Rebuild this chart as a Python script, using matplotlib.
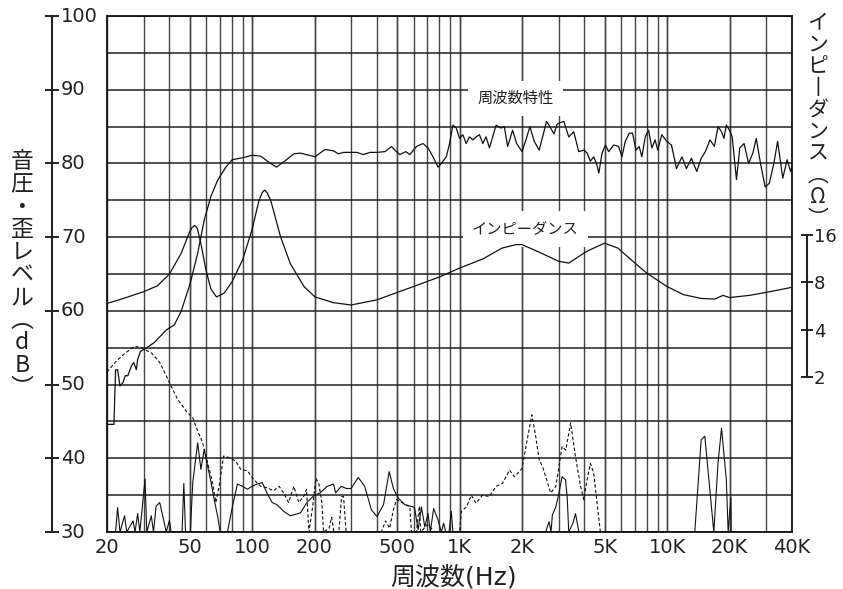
import matplotlib
matplotlib.use('Agg')
import matplotlib.pyplot as plt
import matplotlib.transforms as mtransforms
from matplotlib.ticker import FixedLocator, NullLocator, NullFormatter

# ---------------- data ----------------
# frequency response (dB SPL)
fr_freq = [20, 21.6, 22.0, 22.5, 23.1, 23.9, 24.5, 25.2, 26.2, 26.9, 27.7, 28.1, 29.0, 30.3, 33.8,
           38.6, 42.2, 45.5, 50.3, 54.7, 58.8, 63.3, 68.2, 74.8, 80.2, 90.9, 100, 110, 120, 131,
           142, 159, 171, 201, 225, 247, 261, 276, 302, 320, 344, 370, 400, 437, 470, 488, 515,
           551, 576, 620, 667, 705, 745, 788, 817, 863, 895, 929, 964, 1000, 1037, 1076, 1117,
           1159, 1202, 1247, 1294, 1342, 1393, 1500, 1583, 1643, 1705, 1802, 1884, 2000, 2090,
           2183, 2290, 2420, 2530, 2625, 2750, 2850, 2950, 3030, 3180, 3360, 3550, 3750, 3970,
           4120, 4270, 4430, 4570, 4690, 4860, 5050, 5230, 5530, 5840, 6060, 6290, 6570, 6820,
           7080, 7340, 7560, 7850, 8140, 8450, 8760, 9020, 9430, 9960, 10500, 11100, 11800,
           12400, 13100, 13900, 14600, 15300, 16100, 16900, 17600, 18300, 18800, 19300, 20000,
           20600, 21600, 22400, 23500, 24700, 25900, 26900, 28200, 29700, 31100, 32700, 34100,
           36100, 37900, 39400, 40000]
fr_db = [44.6, 44.6, 52.0, 52.0, 49.8, 50.3, 51.2, 51.2, 52.5, 53.0, 52.0, 53.4, 54.5, 54.8, 55.7,
         57.4, 58.1, 59.9, 63.7, 67.8, 72.3, 75.5, 77.7, 79.5, 80.5, 80.8, 81.1, 81.0, 80.2, 79.5,
         80.2, 81.3, 81.4, 80.9, 81.9, 81.7, 81.3, 81.5, 81.5, 81.5, 81.2, 81.5, 81.5, 81.6, 82.3,
         81.8, 81.2, 81.6, 81.2, 82.3, 82.7, 82.1, 80.9, 79.5, 80.0, 80.9, 82.7, 85.2, 84.8, 83.4,
         83.9, 82.7, 83.6, 83.2, 83.6, 83.9, 82.7, 83.6, 82.1, 85.2, 84.8, 85.0, 82.3, 84.5, 82.7,
         81.6, 83.2, 85.0, 83.0, 81.8, 83.9, 85.7, 84.8, 84.0, 85.3, 85.5, 85.7, 83.6, 84.3, 81.6,
         81.8, 81.4, 80.3, 80.9, 80.0, 78.7, 81.4, 82.5, 81.6, 82.5, 82.3, 80.9, 83.0, 84.1, 84.1,
         81.8, 82.3, 80.9, 83.6, 84.5, 82.1, 83.2, 81.8, 83.9, 83.0, 82.5, 79.3, 80.9, 79.3, 80.7,
         78.9, 80.7, 81.6, 83.2, 82.3, 85.0, 84.3, 83.4, 85.2, 84.5, 83.6, 77.8, 82.1, 82.7, 80.0,
         81.4, 83.4, 80.0, 76.8, 77.3, 80.0, 83.0, 78.0, 80.5, 78.9, 79.6]

# impedance (ohm)
imp_freq = [20, 24, 30, 35, 40, 45.5, 50, 51.5, 53, 54.5, 56.7, 60, 63.3, 67.4, 73.4, 80, 90, 100,
            108, 112, 115, 118, 123, 137, 153, 178, 201, 247, 300, 400, 500, 600, 800, 1000, 1300,
            1600, 1870, 2000, 2400, 3000, 3360, 4100, 5000, 5800, 7000, 8000, 10000, 12000, 14600,
            17000, 18600, 20000, 25000, 30000, 40000]
imp_ohm = [5.87, 6.32, 6.97, 7.60, 9.04, 12.2, 16.7, 17.9, 18.4, 17.6, 14.1, 9.54, 7.28, 6.46, 6.83,
           8.04, 11.1, 17.3, 26.6, 29.8, 30.9, 29.8, 26.6, 15.7, 10.5, 7.52, 6.46, 5.94, 5.74, 6.19,
           6.90, 7.52, 8.66, 9.85, 11.3, 13.2, 13.9, 13.9, 12.5, 10.9, 10.6, 12.6, 14.2, 13.2, 10.6,
           9.14, 7.52, 6.68, 6.32, 6.26, 6.61, 6.40, 6.61, 6.90, 7.44]

# 2nd harmonic distortion (dashed, dB)
h2_freq = [20, 22.2, 24.3, 27.2, 29.2, 32.7, 35.9, 38.6, 40.7, 43.8, 48.1, 51.8, 54.7, 57.8, 61.1,
           64.5, 66.9, 69.4, 72.9, 77.6, 83.5, 88.2, 95, 102, 110, 118, 127, 135, 142, 150, 159,
           168, 178, 183, 188, 196, 203, 210, 217, 221, 235, 242, 248, 262, 270, 276, 284, 420,
           440, 460, 480, 497, 535, 576, 586, 620, 640, 650, 700, 760, 1000, 1020, 1080, 1140,
           1200, 1290, 1390, 1500, 1610, 1740, 1840, 2000, 2090, 2230, 2330, 2420, 2510, 2600,
           2750, 2910, 3000, 3120, 3250, 3430, 3620, 3830, 3970, 4120, 4270, 4430, 4600, 4770, 4850]
h2_db = [51.7, 53.2, 54.2, 55.2, 55.0, 54.3, 53.0, 51.2, 49.8, 48.0, 46.4, 45.5, 43.7, 42.1, 39.4,
         36.7, 34.0, 36.2, 40.3, 40.1, 39.6, 38.5, 38.3, 37.1, 36.2, 36.0, 35.6, 36.2, 35.3, 34.0,
         36.2, 34.0, 34.9, 35.8, 30.0, 33.5, 37.3, 36.5, 34.0, 30.0, 30.5, 32.0, 30.0, 30.0, 34.8,
         34.8, 30.0, 30.0, 31.5, 30.5, 33.0, 34.4, 33.9, 33.4, 30.0, 30.0, 33.5, 30.0, 31.0, 30.0,
         30.0, 32.8, 33.4, 35.0, 33.9, 35.0, 34.8, 36.2, 36.6, 38.4, 37.5, 38.6, 41.6, 45.9, 42.9,
         39.8, 38.9, 37.5, 35.3, 36.2, 38.5, 41.6, 41.1, 44.8, 40.2, 36.2, 34.4, 37.1, 39.3, 38.0,
         33.9, 30.0, 29.0]

# 3rd harmonic distortion (solid, dB)
h3_freq = [20, 22.0, 22.5, 23.1, 24.3, 24.9, 26.7, 27.3, 28.1, 28.8, 30.5, 31.1, 32.7, 33.5, 34.5,
           35.9, 37.1, 38.6, 40.0, 40.7, 46.0, 46.9, 47.8, 50.4, 51.8, 54.7, 56.7, 58.8, 61.1, 63.3,
           65.7, 68.2, 70.2, 76.1, 80.5, 85, 90, 95, 100, 106, 112, 118, 125, 132, 142, 153, 162,
           171, 184, 198, 213, 230, 247, 253, 269, 285, 300, 325, 349, 376, 400, 430, 458, 480,
           506, 545, 598, 608, 631, 655, 680, 705, 723, 750, 788, 817, 838, 857, 890, 912, 929,
           2600, 2700, 2760, 2800, 2910, 3000, 3120, 3240, 3300, 3360, 3520, 3620, 3760, 13600,
           14600, 15200, 16800, 17600, 18300, 19300, 19700, 20300, 20400]
h3_db = [30.0, 30.0, 33.3, 30.0, 32.2, 30.0, 31.5, 30.0, 32.5, 30.0, 37.2, 30.0, 32.2, 30.0, 33.5,
         34.0, 32.2, 30.0, 31.6, 30.0, 30.0, 36.6, 30.0, 30.0, 36.7, 42.1, 38.5, 41.2, 38.9, 36.9,
         34.4, 32.2, 30.0, 30.0, 33.5, 36.5, 36.2, 35.8, 36.2, 36.5, 36.7, 35.3, 34.0, 33.7, 32.8,
         32.2, 32.4, 32.6, 34.0, 34.9, 35.3, 36.2, 36.5, 35.3, 36.2, 35.9, 35.9, 37.4, 36.2, 33.0,
         32.1, 33.7, 38.2, 35.9, 34.6, 33.7, 33.4, 33.2, 30.3, 33.4, 30.7, 32.5, 30.0, 33.2, 31.6,
         30.0, 31.2, 30.0, 30.0, 32.8, 30.0, 30.0, 31.4, 30.0, 32.3, 33.4, 35.0, 37.5, 37.1, 34.8,
         30.0, 31.2, 32.5, 30.0, 30.0, 42.5, 43.0, 30.0, 39.3, 44.1, 37.1, 30.0, 34.7, 29.0]

x_ticks = [20, 50, 100, 200, 500, 1000, 2000, 5000, 10000, 20000, 40000]
x_ticklabels = ['20', '50', '100', '200', '500', '1K', '2K', '5K', '10K', '20K', '40K']
x_grid = [30, 40, 50, 60, 70, 80, 90, 100, 200, 300, 400, 500, 600, 700, 800, 900, 1000,
          2000, 3000, 4000, 5000, 6000, 7000, 8000, 9000, 10000, 20000, 30000]
db_ticks = [30, 40, 50, 60, 70, 80, 90, 100]
db_grid = [35, 45, 55, 65, 75, 85, 95]
imp_ticks = [2, 4, 8, 16]

left_label = '\n'.join(['音', '圧', '・', '歪', 'レ', 'ベ', 'ル', '︵', 'd', 'B', '︶'])
right_label = '\n'.join(['イ', 'ン', 'ピ', '丨', 'ダ', 'ン', 'ス', '︵', 'Ω', '︶'])

# ---------------- layout ----------------
CJK = ['Noto Sans CJK JP', 'DejaVu Sans']
LAT = ['DejaVu Sans', 'Noto Sans CJK JP']
W, H = 843, 589
L, R, T, B = 107, 792, 16, 532
fig = plt.figure(figsize=(W / 100, H / 100), dpi=100)
fig.patch.set_facecolor('white')
ax = fig.add_axes([L / W, 1 - B / H, (R - L) / W, (B - T) / H])
ax.set_xscale('log')
ax.set_xlim(20, 40000)
ax.set_ylim(30, 100)
ax.set_axisbelow(True)

ax.xaxis.set_major_locator(FixedLocator(x_ticks))
ax.xaxis.set_minor_locator(FixedLocator(x_grid))
ax.xaxis.set_minor_formatter(NullFormatter())
ax.set_xticklabels(x_ticklabels)
ax.yaxis.set_major_locator(FixedLocator(db_ticks))
ax.yaxis.set_minor_locator(FixedLocator(db_grid))
ax.yaxis.set_minor_formatter(NullFormatter())
ax.xaxis.remove_overlapping_locs = False
ax.grid(which='both', axis='x', color='#444444', lw=1.0)
ax.grid(which='both', axis='y', color='#222222', lw=1.1)
ax.tick_params(axis='both', which='both', length=0)
ax.tick_params(axis='y', labelleft=False)
ax.tick_params(axis='x', labelsize=14, pad=4, colors='#222222')
for s in ax.spines.values():
    s.set_linewidth(1.3)
    s.set_color('#111111')

# left dB scale line
sec = ax.secondary_yaxis((52 - L) / (R - L))
sec.set_yticks(db_ticks)
sec.yaxis.set_minor_locator(NullLocator())
sec.tick_params(direction='inout', length=10.5, width=1.4, labelleft=False, color='#222222')
sec.spines['left'].set_linewidth(1.5)
sec.spines['left'].set_color('#222222')
trans = mtransforms.blended_transform_factory(fig.transFigure, ax.transData)
for v in db_ticks:
    ax.text(61 / W, v, str(v), transform=trans, ha='left', va='center', fontsize=14,
            color='#222222', clip_on=False)

# curves
ax.plot(fr_freq, fr_db, color='#111111', lw=0.9, zorder=4)
ax.plot(h2_freq, h2_db, color='#111111', lw=0.8, ls=(0, (3, 2)), zorder=4)
ax.plot(h3_freq, h3_db, color='#111111', lw=0.8, zorder=4)

# impedance axis
Z_REF, DB_REF, DB_PER_OCT = 16, 70.29, 6.42
ax2 = ax.twinx()
ax2.set_yscale('log', base=2)
ax2.set_ylim(Z_REF * 2 ** ((30 - DB_REF) / DB_PER_OCT), Z_REF * 2 ** ((100 - DB_REF) / DB_PER_OCT))
ax2.plot(imp_freq, imp_ohm, color='#111111', lw=0.9, zorder=4)
for k in ['left', 'top', 'bottom']:
    ax2.spines[k].set_visible(False)
ax2.spines['right'].set_position(('outward', 10.6))
ax2.spines['right'].set_bounds(2, 16)
ax2.spines['right'].set_linewidth(1.5)
ax2.spines['right'].set_color('#222222')
ax2.yaxis.set_major_locator(FixedLocator(imp_ticks))
ax2.yaxis.set_minor_locator(NullLocator())
ax2.yaxis.set_minor_formatter(NullFormatter())
ax2.set_yticklabels([str(v) for v in imp_ticks])
ax2.tick_params(axis='y', direction='inout', length=8.6, width=1.4, labelsize=13, pad=0.8,
                color='#222222', labelcolor='#222222')

# curve labels
box = dict(boxstyle='square,pad=0.6', fc='white', ec='none')
ax.text(1860, 88.8, '周波数特性', ha='center', va='center', fontsize=11, family=CJK,
        color='#222222', bbox=box, zorder=3)
ax.text(2075, 71.1, 'インピーダンス', ha='center', va='center', fontsize=11, family=CJK,
        color='#222222', bbox=box, zorder=3)

# axis titles (vertical Japanese)
fig.text(22 / W, 1 - 275 / H, left_label, ha='center', va='center', ma='center', fontsize=16.5,
         family=CJK, color='#222222', linespacing=0.98)
fig.text(818 / W, 1 - 121 / H, right_label, ha='center', va='center', ma='center', fontsize=15,
         family=CJK, color='#222222', linespacing=0.99)

fig.text(453 / W, 1 - 577 / H, '周波数(Hz)', ha='center', va='center', fontsize=18,
         family=LAT, color='#222222')

fig.savefig('out.png', dpi=100)
